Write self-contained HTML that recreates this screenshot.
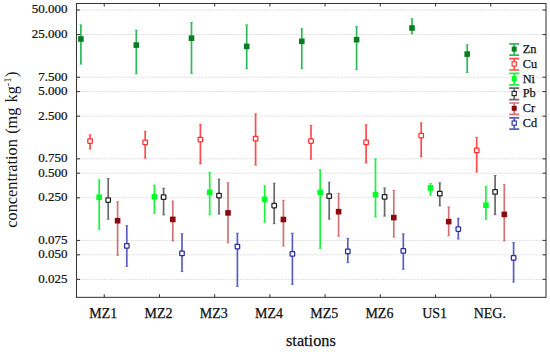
<!DOCTYPE html>
<html><head><meta charset="utf-8"><title>chart</title>
<style>
html,body{margin:0;padding:0;background:#fff;}
body{width:550px;height:352px;overflow:hidden;}
svg{display:block;}
.t2{font-family:"Liberation Serif","DejaVu Serif",serif;fill:#151515;}
.t{font-family:"Liberation Serif","DejaVu Serif",serif;fill:#111;stroke:#111;stroke-width:0.25px;}
</style></head><body>
<svg width="550" height="352" viewBox="0 0 550 352">
<rect x="0" y="0" width="550" height="352" fill="#ffffff"/>
<g stroke="#d2d2d2" stroke-width="1" stroke-dasharray="0.85 0.85" fill="none">
<line x1="77.0" y1="10.00" x2="545.5" y2="10.00"/>
<line x1="77.0" y1="34.56" x2="545.5" y2="34.56"/>
<line x1="77.0" y1="77.23" x2="545.5" y2="77.23"/>
<line x1="77.0" y1="91.60" x2="545.5" y2="91.60"/>
<line x1="77.0" y1="116.16" x2="545.5" y2="116.16"/>
<line x1="77.0" y1="158.83" x2="545.5" y2="158.83"/>
<line x1="77.0" y1="173.20" x2="545.5" y2="173.20"/>
<line x1="77.0" y1="197.76" x2="545.5" y2="197.76"/>
<line x1="77.0" y1="240.43" x2="545.5" y2="240.43"/>
<line x1="77.0" y1="254.80" x2="545.5" y2="254.80"/>
<line x1="77.0" y1="279.36" x2="545.5" y2="279.36"/>
</g>
<g stroke="#383838" stroke-width="1.05" fill="none">
<rect x="76.5" y="3.5" width="469.5" height="293.85"/>
<line x1="76.5" y1="10.00" x2="80.0" y2="10.00"/>
<line x1="546.0" y1="10.00" x2="542.5" y2="10.00"/>
<line x1="76.5" y1="34.56" x2="80.0" y2="34.56"/>
<line x1="546.0" y1="34.56" x2="542.5" y2="34.56"/>
<line x1="76.5" y1="77.23" x2="80.0" y2="77.23"/>
<line x1="546.0" y1="77.23" x2="542.5" y2="77.23"/>
<line x1="76.5" y1="91.60" x2="80.0" y2="91.60"/>
<line x1="546.0" y1="91.60" x2="542.5" y2="91.60"/>
<line x1="76.5" y1="116.16" x2="80.0" y2="116.16"/>
<line x1="546.0" y1="116.16" x2="542.5" y2="116.16"/>
<line x1="76.5" y1="158.83" x2="80.0" y2="158.83"/>
<line x1="546.0" y1="158.83" x2="542.5" y2="158.83"/>
<line x1="76.5" y1="173.20" x2="80.0" y2="173.20"/>
<line x1="546.0" y1="173.20" x2="542.5" y2="173.20"/>
<line x1="76.5" y1="197.76" x2="80.0" y2="197.76"/>
<line x1="546.0" y1="197.76" x2="542.5" y2="197.76"/>
<line x1="76.5" y1="240.43" x2="80.0" y2="240.43"/>
<line x1="546.0" y1="240.43" x2="542.5" y2="240.43"/>
<line x1="76.5" y1="254.80" x2="80.0" y2="254.80"/>
<line x1="546.0" y1="254.80" x2="542.5" y2="254.80"/>
<line x1="76.5" y1="279.36" x2="80.0" y2="279.36"/>
<line x1="546.0" y1="279.36" x2="542.5" y2="279.36"/>
<line x1="104.25" y1="3.5" x2="104.25" y2="6.5"/>
<line x1="104.25" y1="297.35" x2="104.25" y2="294.35"/>
<line x1="159.46" y1="3.5" x2="159.46" y2="6.5"/>
<line x1="159.46" y1="297.35" x2="159.46" y2="294.35"/>
<line x1="214.67" y1="3.5" x2="214.67" y2="6.5"/>
<line x1="214.67" y1="297.35" x2="214.67" y2="294.35"/>
<line x1="269.88" y1="3.5" x2="269.88" y2="6.5"/>
<line x1="269.88" y1="297.35" x2="269.88" y2="294.35"/>
<line x1="325.09" y1="3.5" x2="325.09" y2="6.5"/>
<line x1="325.09" y1="297.35" x2="325.09" y2="294.35"/>
<line x1="380.30" y1="3.5" x2="380.30" y2="6.5"/>
<line x1="380.30" y1="297.35" x2="380.30" y2="294.35"/>
<line x1="435.51" y1="3.5" x2="435.51" y2="6.5"/>
<line x1="435.51" y1="297.35" x2="435.51" y2="294.35"/>
<line x1="490.72" y1="3.5" x2="490.72" y2="6.5"/>
<line x1="490.72" y1="297.35" x2="490.72" y2="294.35"/>
</g>
<g stroke="#2fb85c" stroke-width="1.7" fill="none">
<path d="M80.90 24.70V64.30"/><path stroke-width="0.7" d="M79.40 24.90H82.40M79.40 64.10H82.40"/>
<path d="M136.30 30.00V74.00"/><path stroke-width="0.7" d="M134.80 30.20H137.80M134.80 73.80H137.80"/>
<path d="M191.50 22.40V73.50"/><path stroke-width="0.7" d="M190.00 22.60H193.00M190.00 73.30H193.00"/>
<path d="M246.70 24.70V68.90"/><path stroke-width="0.7" d="M245.20 24.90H248.20M245.20 68.70H248.20"/>
<path d="M301.80 28.50V68.90"/><path stroke-width="0.7" d="M300.30 28.70H303.30M300.30 68.70H303.30"/>
<path d="M356.60 26.50V69.60"/><path stroke-width="0.7" d="M355.10 26.70H358.10M355.10 69.40H358.10"/>
<path d="M412.00 18.50V33.90"/><path stroke-width="0.7" d="M410.50 18.70H413.50M410.50 33.70H413.50"/>
<path d="M467.20 44.60V72.70"/><path stroke-width="0.7" d="M465.70 44.80H468.70M465.70 72.50H468.70"/>
</g>
<g fill="#0a7d22" stroke="none">
<rect x="78.10" y="36.20" width="5.6" height="5.6"/>
<rect x="133.50" y="42.30" width="5.6" height="5.6"/>
<rect x="188.70" y="35.40" width="5.6" height="5.6"/>
<rect x="243.90" y="43.60" width="5.6" height="5.6"/>
<rect x="299.00" y="38.50" width="5.6" height="5.6"/>
<rect x="353.80" y="36.90" width="5.6" height="5.6"/>
<rect x="409.20" y="25.20" width="5.6" height="5.6"/>
<rect x="464.40" y="51.30" width="5.6" height="5.6"/>
</g>
<g stroke="#ff4a4e" stroke-width="1.7" fill="none">
<path d="M90.10 134.60V149.20"/><path stroke-width="0.7" d="M88.60 134.80H91.60M88.60 149.00H91.60"/>
<path d="M145.20 131.00V158.40"/><path stroke-width="0.7" d="M143.70 131.20H146.70M143.70 158.20H146.70"/>
<path d="M200.40 124.10V164.00"/><path stroke-width="0.7" d="M198.90 124.30H201.90M198.90 163.80H201.90"/>
<path d="M255.60 113.70V165.30"/><path stroke-width="0.7" d="M254.10 113.90H257.10M254.10 165.10H257.10"/>
<path d="M311.00 125.10V159.40"/><path stroke-width="0.7" d="M309.50 125.30H312.50M309.50 159.20H312.50"/>
<path d="M366.10 124.40V163.20"/><path stroke-width="0.7" d="M364.60 124.60H367.60M364.60 163.00H367.60"/>
<path d="M421.20 122.60V157.10"/><path stroke-width="0.7" d="M419.70 122.80H422.70M419.70 156.90H422.70"/>
<path d="M476.70 137.20V172.20"/><path stroke-width="0.7" d="M475.20 137.40H478.20M475.20 172.00H478.20"/>
</g>
<g fill="#ffffff" stroke="#ff2e30" stroke-width="1.25">
<rect x="87.85" y="138.75" width="4.5" height="4.5" rx="0.4"/>
<rect x="142.95" y="140.05" width="4.5" height="4.5" rx="0.4"/>
<rect x="198.15" y="137.25" width="4.5" height="4.5" rx="0.4"/>
<rect x="253.35" y="136.45" width="4.5" height="4.5" rx="0.4"/>
<rect x="308.75" y="138.75" width="4.5" height="4.5" rx="0.4"/>
<rect x="363.85" y="140.05" width="4.5" height="4.5" rx="0.4"/>
<rect x="418.95" y="133.35" width="4.5" height="4.5" rx="0.4"/>
<rect x="474.45" y="148.15" width="4.5" height="4.5" rx="0.4"/>
</g>
<g stroke="#1cf23e" stroke-width="1.7" fill="none">
<path d="M99.20 179.80V229.40"/><path stroke-width="0.7" d="M97.70 180.00H100.70M97.70 229.20H100.70"/>
<path d="M154.40 184.90V213.50"/><path stroke-width="0.7" d="M152.90 185.10H155.90M152.90 213.30H155.90"/>
<path d="M209.70 172.30V215.00"/><path stroke-width="0.7" d="M208.20 172.50H211.20M208.20 214.80H211.20"/>
<path d="M264.70 185.50V222.30"/><path stroke-width="0.7" d="M263.20 185.70H266.20M263.20 222.10H266.20"/>
<path d="M320.20 169.50V248.60"/><path stroke-width="0.7" d="M318.70 169.70H321.70M318.70 248.40H321.70"/>
<path d="M375.50 158.60V217.10"/><path stroke-width="0.7" d="M374.00 158.80H377.00M374.00 216.90H377.00"/>
<path d="M430.50 183.30V195.30"/><path stroke-width="0.7" d="M429.00 183.50H432.00M429.00 195.10H432.00"/>
<path d="M485.90 186.30V219.50"/><path stroke-width="0.7" d="M484.40 186.50H487.40M484.40 219.30H487.40"/>
</g>
<g fill="#00ff22" stroke="none">
<rect x="96.40" y="194.40" width="5.6" height="5.6"/>
<rect x="151.60" y="193.90" width="5.6" height="5.6"/>
<rect x="206.90" y="189.60" width="5.6" height="5.6"/>
<rect x="261.90" y="196.50" width="5.6" height="5.6"/>
<rect x="317.40" y="189.70" width="5.6" height="5.6"/>
<rect x="372.70" y="191.80" width="5.6" height="5.6"/>
<rect x="427.70" y="185.10" width="5.6" height="5.6"/>
<rect x="483.10" y="202.40" width="5.6" height="5.6"/>
</g>
<g stroke="#696969" stroke-width="1.7" fill="none">
<path d="M108.20 178.30V219.40"/><path stroke-width="0.7" d="M106.70 178.50H109.70M106.70 219.20H109.70"/>
<path d="M163.60 188.00V215.10"/><path stroke-width="0.7" d="M162.10 188.20H165.10M162.10 214.90H165.10"/>
<path d="M219.00 178.90V214.20"/><path stroke-width="0.7" d="M217.50 179.10H220.50M217.50 214.00H220.50"/>
<path d="M274.20 183.00V223.90"/><path stroke-width="0.7" d="M272.70 183.20H275.70M272.70 223.70H275.70"/>
<path d="M329.20 182.00V219.40"/><path stroke-width="0.7" d="M327.70 182.20H330.70M327.70 219.20H330.70"/>
<path d="M384.60 187.70V216.30"/><path stroke-width="0.7" d="M383.10 187.90H386.10M383.10 216.10H386.10"/>
<path d="M439.80 182.50V206.00"/><path stroke-width="0.7" d="M438.30 182.70H441.30M438.30 205.80H441.30"/>
<path d="M495.10 175.30V214.90"/><path stroke-width="0.7" d="M493.60 175.50H496.60M493.60 214.70H496.60"/>
</g>
<g fill="#ffffff" stroke="#222222" stroke-width="1.25">
<rect x="105.95" y="197.75" width="4.5" height="4.5" rx="0.4"/>
<rect x="161.35" y="194.95" width="4.5" height="4.5" rx="0.4"/>
<rect x="216.75" y="193.25" width="4.5" height="4.5" rx="0.4"/>
<rect x="271.95" y="203.25" width="4.5" height="4.5" rx="0.4"/>
<rect x="326.95" y="193.85" width="4.5" height="4.5" rx="0.4"/>
<rect x="382.35" y="194.65" width="4.5" height="4.5" rx="0.4"/>
<rect x="437.55" y="191.45" width="4.5" height="4.5" rx="0.4"/>
<rect x="492.85" y="189.65" width="4.5" height="4.5" rx="0.4"/>
</g>
<g stroke="#d07276" stroke-width="1.7" fill="none">
<path d="M117.60 201.50V255.50"/><path stroke-width="0.7" d="M116.10 201.70H119.10M116.10 255.30H119.10"/>
<path d="M172.80 200.80V241.20"/><path stroke-width="0.7" d="M171.30 201.00H174.30M171.30 241.00H174.30"/>
<path d="M228.00 182.50V243.10"/><path stroke-width="0.7" d="M226.50 182.70H229.50M226.50 242.90H229.50"/>
<path d="M283.40 200.10V246.30"/><path stroke-width="0.7" d="M281.90 200.30H284.90M281.90 246.10H284.90"/>
<path d="M338.60 193.30V236.50"/><path stroke-width="0.7" d="M337.10 193.50H340.10M337.10 236.30H340.10"/>
<path d="M393.80 190.30V237.30"/><path stroke-width="0.7" d="M392.30 190.50H395.30M392.30 237.10H395.30"/>
<path d="M448.70 206.70V236.00"/><path stroke-width="0.7" d="M447.20 206.90H450.20M447.20 235.80H450.20"/>
<path d="M504.30 184.30V241.20"/><path stroke-width="0.7" d="M502.80 184.50H505.80M502.80 241.00H505.80"/>
</g>
<g fill="#8c0a0e" stroke="none">
<rect x="114.80" y="217.90" width="5.6" height="5.6"/>
<rect x="170.00" y="216.60" width="5.6" height="5.6"/>
<rect x="225.20" y="210.10" width="5.6" height="5.6"/>
<rect x="280.60" y="216.70" width="5.6" height="5.6"/>
<rect x="335.80" y="208.90" width="5.6" height="5.6"/>
<rect x="391.00" y="214.80" width="5.6" height="5.6"/>
<rect x="445.90" y="218.80" width="5.6" height="5.6"/>
<rect x="501.50" y="211.60" width="5.6" height="5.6"/>
</g>
<g stroke="#5c5cc2" stroke-width="1.7" fill="none">
<path d="M126.80 225.40V266.70"/><path stroke-width="0.7" d="M125.30 225.60H128.30M125.30 266.50H128.30"/>
<path d="M182.00 233.50V271.80"/><path stroke-width="0.7" d="M180.50 233.70H183.50M180.50 271.60H183.50"/>
<path d="M237.40 233.00V286.60"/><path stroke-width="0.7" d="M235.90 233.20H238.90M235.90 286.40H238.90"/>
<path d="M292.40 233.00V284.60"/><path stroke-width="0.7" d="M290.90 233.20H293.90M290.90 284.40H293.90"/>
<path d="M347.80 238.10V262.90"/><path stroke-width="0.7" d="M346.30 238.30H349.30M346.30 262.70H349.30"/>
<path d="M403.30 233.60V269.50"/><path stroke-width="0.7" d="M401.80 233.80H404.80M401.80 269.30H404.80"/>
<path d="M458.30 218.00V239.20"/><path stroke-width="0.7" d="M456.80 218.20H459.80M456.80 239.00H459.80"/>
<path d="M513.60 242.40V282.30"/><path stroke-width="0.7" d="M512.10 242.60H515.10M512.10 282.10H515.10"/>
</g>
<g fill="#ffffff" stroke="#2a2aa8" stroke-width="1.25">
<rect x="124.55" y="243.55" width="4.5" height="4.5" rx="0.4"/>
<rect x="179.75" y="251.05" width="4.5" height="4.5" rx="0.4"/>
<rect x="235.15" y="244.25" width="4.5" height="4.5" rx="0.4"/>
<rect x="290.15" y="251.65" width="4.5" height="4.5" rx="0.4"/>
<rect x="345.55" y="249.15" width="4.5" height="4.5" rx="0.4"/>
<rect x="401.05" y="248.65" width="4.5" height="4.5" rx="0.4"/>
<rect x="456.05" y="226.75" width="4.5" height="4.5" rx="0.4"/>
<rect x="511.35" y="255.55" width="4.5" height="4.5" rx="0.4"/>
</g>
<path d="M509.20000000000005 43.80H519.2M509.20000000000005 55.20H519.2M514.2 43.80V55.20" stroke="#2fb85c" stroke-width="1.7" fill="none"/>
<rect x="511.70000000000005" y="46.60" width="5" height="5" fill="#0a7d22"/>
<text x="522.7" y="52.90" font-size="12.3" class="t">Zn</text>
<path d="M509.20000000000005 58.60H519.2M509.20000000000005 70.00H519.2M514.2 58.60V70.00" stroke="#ff4a4e" stroke-width="1.7" fill="none"/>
<rect x="512.1" y="61.80" width="4.2" height="4.2" fill="#fff" stroke="#ff2e30" stroke-width="1.1"/>
<text x="522.7" y="67.70" font-size="12.3" class="t">Cu</text>
<path d="M509.20000000000005 73.40H519.2M509.20000000000005 84.80H519.2M514.2 73.40V84.80" stroke="#1cf23e" stroke-width="1.7" fill="none"/>
<rect x="511.70000000000005" y="76.20" width="5" height="5" fill="#00ff22"/>
<text x="522.7" y="82.50" font-size="12.3" class="t">Ni</text>
<path d="M509.20000000000005 88.20H519.2M509.20000000000005 99.60H519.2M514.2 88.20V99.60" stroke="#696969" stroke-width="1.7" fill="none"/>
<rect x="512.1" y="91.40" width="4.2" height="4.2" fill="#fff" stroke="#222222" stroke-width="1.1"/>
<text x="522.7" y="97.30" font-size="12.3" class="t">Pb</text>
<path d="M509.20000000000005 103.00H519.2M509.20000000000005 114.40H519.2M514.2 103.00V114.40" stroke="#d07276" stroke-width="1.7" fill="none"/>
<rect x="511.70000000000005" y="105.80" width="5" height="5" fill="#8c0a0e"/>
<text x="522.7" y="112.10" font-size="12.3" class="t">Cr</text>
<path d="M509.20000000000005 117.80H519.2M509.20000000000005 129.20H519.2M514.2 117.80V129.20" stroke="#5c5cc2" stroke-width="1.7" fill="none"/>
<rect x="512.1" y="121.00" width="4.2" height="4.2" fill="#fff" stroke="#2a2aa8" stroke-width="1.1"/>
<text x="522.7" y="126.90" font-size="12.3" class="t">Cd</text>
<text transform="translate(67.4 13.40) scale(0.97 1)" font-size="13.4" text-anchor="end" class="t">50.000</text>
<text transform="translate(67.4 37.96) scale(0.97 1)" font-size="13.4" text-anchor="end" class="t">25.000</text>
<text transform="translate(67.4 80.63) scale(0.97 1)" font-size="13.4" text-anchor="end" class="t">7.500</text>
<text transform="translate(67.4 95.00) scale(0.97 1)" font-size="13.4" text-anchor="end" class="t">5.000</text>
<text transform="translate(67.4 119.56) scale(0.97 1)" font-size="13.4" text-anchor="end" class="t">2.500</text>
<text transform="translate(67.4 162.23) scale(0.97 1)" font-size="13.4" text-anchor="end" class="t">0.750</text>
<text transform="translate(67.4 176.60) scale(0.97 1)" font-size="13.4" text-anchor="end" class="t">0.500</text>
<text transform="translate(67.4 201.16) scale(0.97 1)" font-size="13.4" text-anchor="end" class="t">0.250</text>
<text transform="translate(67.4 243.83) scale(0.97 1)" font-size="13.4" text-anchor="end" class="t">0.075</text>
<text transform="translate(67.4 258.20) scale(0.97 1)" font-size="13.4" text-anchor="end" class="t">0.050</text>
<text transform="translate(67.4 282.76) scale(0.97 1)" font-size="13.4" text-anchor="end" class="t">0.025</text>
<text x="103.35" y="318" font-size="14" text-anchor="middle" class="t">MZ1</text>
<text x="158.56" y="318" font-size="14" text-anchor="middle" class="t">MZ2</text>
<text x="213.77" y="318" font-size="14" text-anchor="middle" class="t">MZ3</text>
<text x="268.98" y="318" font-size="14" text-anchor="middle" class="t">MZ4</text>
<text x="324.19" y="318" font-size="14" text-anchor="middle" class="t">MZ5</text>
<text x="379.40" y="318" font-size="14" text-anchor="middle" class="t">MZ6</text>
<text x="434.61" y="318" font-size="14" text-anchor="middle" class="t">US1</text>
<text x="489.82" y="318" font-size="14" text-anchor="middle" class="t">NEG.</text>
<text x="310.9" y="345.8" font-size="16.3" text-anchor="middle" class="t">stations</text>
<text transform="translate(17.2 227.7) rotate(-90)" font-size="16.3" class="t2"><tspan x="0">concentration</tspan><tspan x="93.9">(mg</tspan><tspan x="125.3">kg</tspan><tspan x="141.2" font-size="11" dy="-6.5">-1</tspan><tspan x="150.6" dy="6.5">)</tspan></text>
</svg>
</body></html>
